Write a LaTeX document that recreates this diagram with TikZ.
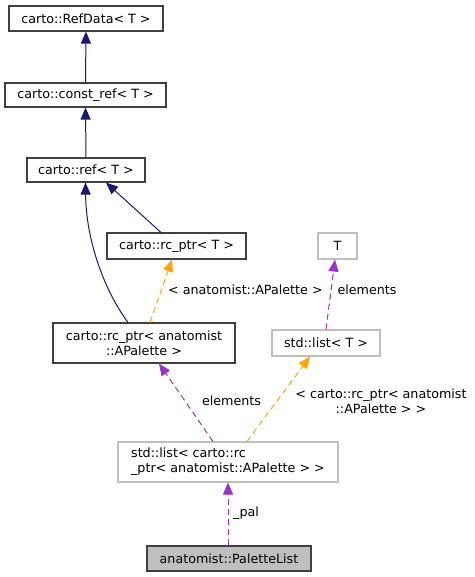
\documentclass[tikz,border=0pt]{standalone}
\usepackage{fontspec}
\setmainfont{DejaVu Sans}
\usetikzlibrary{arrows.meta,calc}
\definecolor{navy}{RGB}{25,25,112}
\definecolor{orng}{RGB}{255,165,0}
\definecolor{purp}{RGB}{153,50,204}
\definecolor{boxgray}{RGB}{191,191,191}
\definecolor{fillgray}{RGB}{191,191,191}
\definecolor{boxdark}{RGB}{64,64,64}
\begin{document}
\begin{tikzpicture}[x=1pt,y=-1pt,
  txt/.style={font=\fontsize{12.7}{15}\selectfont, inner sep=0pt},
  box/.style={txt, draw=boxdark, line width=1.1pt, rectangle, fill=white},
  graybox/.style={box, draw=boxgray},
  tip/.style={-{Triangle[length=12pt,width=10pt]}},
  inh/.style={tip, draw=navy, line width=1pt},
  tmpl/.style={tip, draw=orng, line width=1pt, dash pattern=on 6pt off 4pt},
  usage/.style={tip, draw=purp, line width=1pt, dash pattern=on 6pt off 4pt},
  lbl/.style={txt, align=center}
]
\useasboundingbox (0,0) rectangle (474,577);

\node[box, minimum width=154pt, minimum height=25pt] (refdata) at (86,18.5) {carto::RefData< T >};
\node[box, minimum width=161pt, minimum height=24pt] (constref) at (85.5,95) {carto::const\_ref< T >};
\node[box, minimum width=118pt, minimum height=24pt] (ref) at (86,170) {carto::ref< T >};
\node[box, minimum width=139pt, minimum height=26pt] (rct) at (176.5,246) {carto::rc\_ptr< T >};
\node[graybox, minimum width=39pt, minimum height=26pt] (t) at (337.5,246) {T};
\node[box, minimum width=182pt, minimum height=40pt, align=center] (rca) at (144,343) {carto::rc\_ptr< anatomist\\::APalette >};
\node[graybox, minimum width=108pt, minimum height=26pt] (listt) at (326,343) {std::list< T >};
\node[graybox, minimum width=220pt, minimum height=40pt, align=left] (listrc) at (228,462) {std::list< carto::rc\\\_ptr< anatomist::APalette > >};
\node[box, fill=fillgray, minimum width=164pt, minimum height=25pt] (pl) at (229,558.5) {anatomist::PaletteList};

% inheritance
\draw[inh] (constref.north) -- (refdata.south);
\draw[inh] (ref.north) -- (constref.south);
\draw[inh] ([xshift=-16pt]rca.north) .. controls (104,290) and (86,240) .. ([xshift=-0.5pt]ref.south);
\draw[inh] ([xshift=-15.5pt]rct.north) -- ([xshift=20pt]ref.south);

% template instantiation
\draw[tmpl] ([xshift=6pt]rca.north) -- ([xshift=-4.5pt]rct.south);
\node[lbl, anchor=west] (l1) at (168,290) {< anatomist::APalette >};
\draw[tmpl] ([xshift=19pt]listrc.north) -- ([xshift=-16pt]listt.south);
\node[lbl] (l2) at (381,401) {< carto::rc\_ptr< anatomist\\::APalette > >};

% usage
\draw[usage] (listt.north) -- ([xshift=-2.5pt]t.south);
\node[lbl] (l3) at (367,290) {elements};
\draw[usage] ([xshift=-15pt]listrc.north) -- ([xshift=15pt]rca.south);
\node[lbl] (l4) at (231.5,401) {elements};
\draw[usage] ([xshift=-1pt]pl.north) -- (listrc.south);
\node[lbl, anchor=west] (l5) at (233,513) {\_pal};
\end{tikzpicture}
\end{document}
